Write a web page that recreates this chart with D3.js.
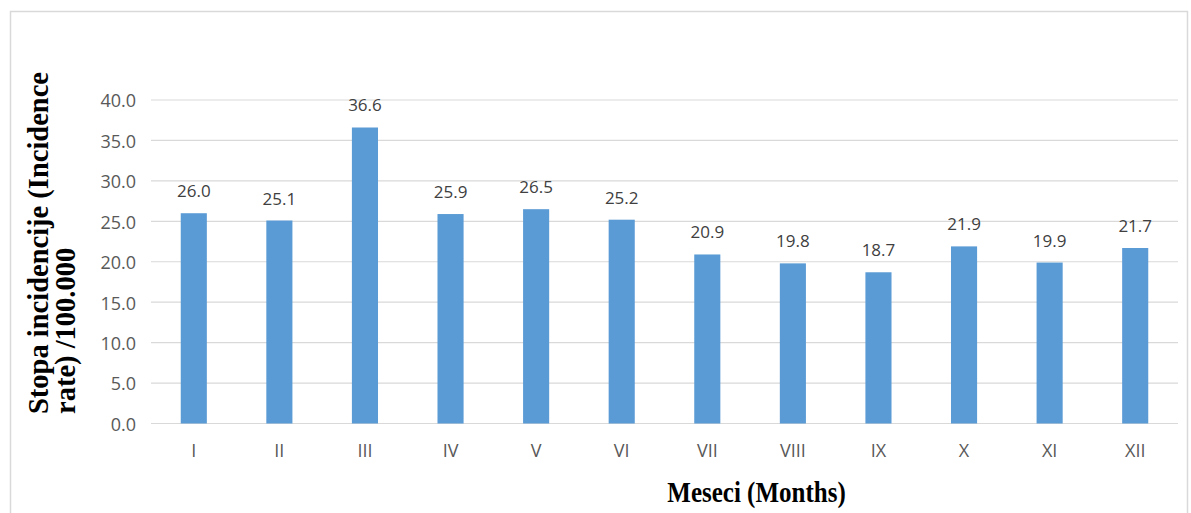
<!DOCTYPE html>
<html>
<head>
<meta charset="utf-8">
<script src="https://cdn.jsdelivr.net/npm/d3@7"></script>
<style>
  html, body { margin: 0; padding: 0; background: #fff; }
  svg { display: block; }
</style>
</head>
<body>
<script>
// Monthly incidence rate per 100,000
const months = ["I", "II", "III", "IV", "V", "VI", "VII", "VIII", "IX", "X", "XI", "XII"];
const rates = [26.0, 25.1, 36.6, 25.9, 26.5, 25.2, 20.9, 19.8, 18.7, 21.9, 19.9, 21.7];
const yTicks = [0, 5, 10, 15, 20, 25, 30, 35, 40];
const yTitleLines = ["Stopa incidencije (Incidence", "rate) /100.000"];
const xTitle = "Meseci (Months)";

const W = 1191, H = 513;
const plotLeft = 151, plotRight = 1178, plotTop = 100, plotBottom = 423.5;
const sansFont = "'Open Sans', 'Liberation Sans', sans-serif";
const serifFont = "'Liberation Serif', 'Times New Roman', serif";

const svg = d3.select("body").append("svg")
  .attr("width", W).attr("height", H);

// outer frame
svg.append("rect")
  .attr("x", 10.5).attr("y", 11.5)
  .attr("width", 1177).attr("height", 520)
  .attr("fill", "none").attr("stroke", "#d9d9d9").attr("stroke-width", 1.5);

const x = d3.scaleBand()
  .domain(months)
  .range([plotLeft, plotRight])
  .paddingInner(0.695)
  .paddingOuter(0.3475);

const y = d3.scaleLinear().domain([0, 40]).range([plotBottom, plotTop]);

// gridlines
svg.append("g")
  .selectAll("line")
  .data(yTicks)
  .join("line")
  .attr("x1", plotLeft).attr("x2", plotRight)
  .attr("y1", d => y(d)).attr("y2", d => y(d))
  .attr("stroke", "#d9d9d9").attr("stroke-width", 1.2);

// y axis labels
const yAxis = d3.axisLeft(y).tickValues(yTicks).tickFormat(d3.format(".1f")).tickSize(0).tickPadding(15);
svg.append("g")
  .attr("transform", `translate(${plotLeft},0)`)
  .call(yAxis)
  .call(g => g.select(".domain").remove())
  .call(g => g.selectAll("text")
    .attr("dy", "0.38em")
    .attr("fill", "#595959")
    .style("font-family", sansFont)
    .style("font-size", "18px"));

// x axis labels
const xAxis = d3.axisBottom(x).tickSize(0).tickPadding(21);
svg.append("g")
  .attr("transform", `translate(0,${plotBottom})`)
  .call(xAxis)
  .call(g => g.select(".domain").remove())
  .call(g => g.selectAll("text")
    .attr("fill", "#595959")
    .style("font-family", sansFont)
    .style("font-size", "18px"));

// bars
svg.append("g")
  .selectAll("rect")
  .data(rates)
  .join("rect")
  .attr("x", (d, i) => x(months[i]))
  .attr("y", d => y(d))
  .attr("width", x.bandwidth())
  .attr("height", d => y(0) - y(d))
  .attr("fill", "#5b9bd5");

// value labels
svg.append("g")
  .selectAll("text")
  .data(rates)
  .join("text")
  .attr("x", (d, i) => x(months[i]) + x.bandwidth() / 2)
  .attr("y", d => y(d) - 16)
  .attr("text-anchor", "middle")
  .attr("fill", "#404040")
  .style("font-family", sansFont)
  .style("font-size", "17px")
  .text(d => d.toFixed(1));

// y axis title (two lines, start-aligned at the bottom)
const yt = svg.append("text")
  .attr("transform", "translate(48,414) rotate(-90)")
  .attr("text-anchor", "start")
  .attr("fill", "#000")
  .style("font-family", serifFont)
  .style("font-weight", "bold")
  .style("font-size", "28.5px");
yt.selectAll("tspan")
  .data(yTitleLines)
  .join("tspan")
  .attr("x", 0)
  .attr("dy", (d, i) => i === 0 ? 0 : 27)
  .text(d => d);

// x axis title
svg.append("text")
  .attr("transform", "translate(756.5,501.5) scale(1,1.2)")
  .attr("text-anchor", "middle")
  .attr("fill", "#000")
  .style("font-family", serifFont)
  .style("font-weight", "bold")
  .style("font-size", "25px")
  .text(xTitle);
</script>
</body>
</html>
